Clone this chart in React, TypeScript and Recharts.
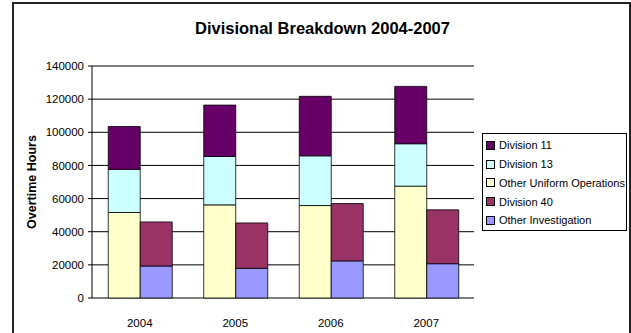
import React from 'react';
import { BarChart, Bar, XAxis, YAxis, CartesianGrid, Legend } from 'recharts';

const years = ['2004', '2005', '2006', '2007'];
const otherUniform = [51600, 56200, 55800, 67500];
const division13 = [26000, 29200, 30000, 25600];
const division11 = [25900, 31000, 35900, 34600];
const otherInvestigation = [19300, 17900, 22400, 20700];
const division40 = [26600, 27400, 34600, 32500];

const yTicks = [0, 20000, 40000, 60000, 80000, 100000, 120000, 140000];
const edgeTicks = [0, 1, 2, 3, 4];

// two stacks per year: uniform side and investigation side
const series = [
  { key: 'otherUniform', name: 'Other Uniform Operations', color: '#FFFFCC', stack: 'uniform' },
  { key: 'division13', name: 'Division 13', color: '#CCFFFF', stack: 'uniform' },
  { key: 'division11', name: 'Division 11', color: '#660066', stack: 'uniform' },
  { key: 'otherInvestigation', name: 'Other Investigation', color: '#9999FF', stack: 'invest' },
  { key: 'division40', name: 'Division 40', color: '#993366', stack: 'invest' },
];

const legendOrder = ['division11', 'division13', 'otherUniform', 'division40', 'otherInvestigation'];

const data = years.map((year, i) => ({
  year,
  otherUniform: otherUniform[i],
  division13: division13[i],
  division11: division11[i],
  otherInvestigation: otherInvestigation[i],
  division40: division40[i],
}));

const font = 'Arial, "Liberation Sans", sans-serif';

const renderLegend = () => (
  <div style={{ padding: '2px 0 0 3px', fontFamily: font, fontSize: 11, color: '#000' }}>
    {legendOrder.map((k) => {
      const s = series.find((x) => x.key === k)!;
      return (
        <div key={k} style={{ height: 18.75, display: 'flex', alignItems: 'center' }}>
          <span
            style={{
              width: 7,
              height: 7,
              background: s.color,
              border: '1px solid #000',
              marginRight: 4,
              display: 'inline-block',
            }}
          />
          <span>{s.name}</span>
        </div>
      );
    })}
  </div>
);

export default function App() {
  return (
    <div style={{ position: 'absolute', left: 0, top: 0, width: 631, height: 333, background: '#fff', overflow: 'hidden' }}>
      <div
        style={{
          position: 'absolute',
          left: 12,
          top: 2,
          width: 619,
          height: 340,
          border: '2px solid #222',
          boxSizing: 'border-box',
        }}
      />
      <div
        style={{
          position: 'absolute',
          left: 0,
          width: 645,
          top: 19,
          textAlign: 'center',
          fontFamily: font,
          fontWeight: 'bold',
          fontSize: 16.5,
          color: '#000',
        }}
      >
        Divisional Breakdown 2004-2007
      </div>
      <BarChart
        width={631}
        height={333}
        data={data}
        margin={{ top: 66, right: 157, bottom: 0, left: 0 }}
        barCategoryGap="17%"
        barGap={0}
        style={{ position: 'absolute', left: 0, top: 0 }}
      >
        <CartesianGrid xAxisId="cat" vertical={false} stroke="#000" strokeWidth={1} />
        {/* boundary tick marks between the years */}
        <XAxis
          xAxisId="edge"
          type="number"
          domain={[0, 4]}
          ticks={edgeTicks}
          allowDataOverflow
          height={0}
          tick={false}
          tickSize={5}
          stroke="#000"
        />
        <XAxis
          xAxisId="cat"
          dataKey="year"
          height={35}
          axisLine={false}
          tickLine={false}
          tickSize={5}
          tickMargin={16}
          tick={{ fill: '#000', fontSize: 11.5, fontFamily: font }}
        />
        <YAxis
          width={92}
          domain={[0, 140000]}
          ticks={yTicks}
          tickSize={4}
          tickMargin={4}
          stroke="#000"
          tick={{ fill: '#000', fontSize: 11.5, fontFamily: font }}
          label={{
            value: 'Overtime Hours',
            angle: -90,
            position: 'insideLeft',
            offset: 32,
            style: { fontFamily: font, fontWeight: 'bold', fontSize: 12.5, fill: '#000', textAnchor: 'middle' },
          }}
        />
        <YAxis yAxisId="frame" orientation="right" width={0} tick={false} tickLine={false} stroke="#808080" />
        {series.map((s) => (
          <Bar
            key={s.key}
            xAxisId="cat"
            dataKey={s.key}
            name={s.name}
            stackId={s.stack}
            fill={s.color}
            stroke="#000"
            strokeWidth={0.8}
            isAnimationActive={false}
          />
        ))}
        <Legend
          layout="vertical"
          align="center"
          verticalAlign="middle"
          content={renderLegend}
          wrapperStyle={{
            left: 482,
            top: 133,
            width: 145,
            height: 98,
            border: '1px solid #000',
            background: '#fff',
            boxSizing: 'border-box',
          }}
        />
      </BarChart>
    </div>
  );
}
